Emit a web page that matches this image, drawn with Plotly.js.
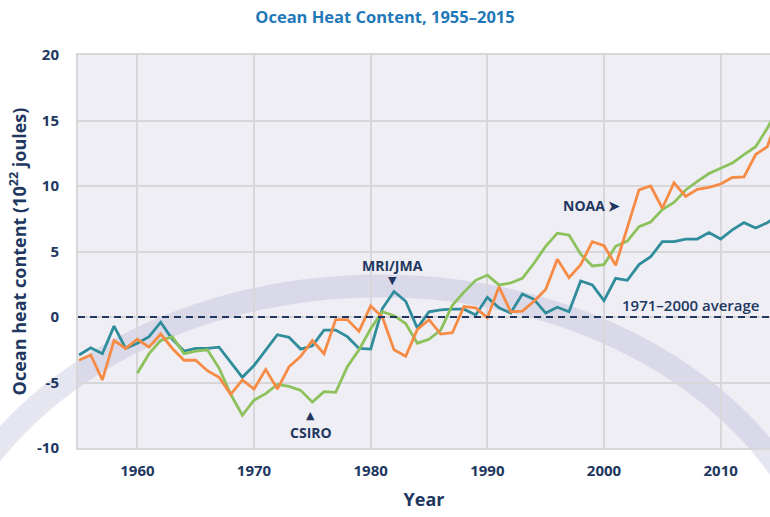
<!DOCTYPE html>
<html>
<head>
<meta charset="utf-8">
<script src="https://cdn.plot.ly/plotly-3.0.1.min.js"></script>
<style>html,body{margin:0;padding:0;background:#fff;}#chart{width:770px;height:517px;}</style>
</head>
<body>
<div id="chart"></div>
<script>
const years = [1955,1956,1957,1958,1959,1960,1961,1962,1963,1964,1965,1966,1967,1968,1969,1970,1971,1972,1973,1974,1975,1976,1977,1978,1979,1980,1981,1982,1983,1984,1985,1986,1987,1988,1989,1990,1991,1992,1993,1994,1995,1996,1997,1998,1999,2000,2001,2002,2003,2004,2005,2006,2007,2008,2009,2010,2011,2012,2013,2014,2015];

const noaa = [-3.3,-2.9,-4.8,-1.8,-2.4,-1.7,-2.3,-1.3,-2.4,-3.3,-3.3,-4.1,-4.6,-5.9,-4.8,-5.5,-4.0,-5.5,-3.8,-3.0,-1.8,-2.8,-0.2,-0.2,-1.1,0.85,0.0,-2.5,-3.0,-0.95,-0.2,-1.3,-1.2,0.8,0.7,-0.05,2.3,0.4,0.45,1.2,2.1,4.4,3.0,4.0,5.75,5.45,3.95,6.8,9.7,10.0,8.3,10.25,9.2,9.75,9.9,10.15,10.65,10.7,12.4,13.0,15.6];

const mriJma = [-2.9,-2.35,-2.8,-0.7,-2.4,-2.0,-1.5,-0.4,-1.7,-2.6,-2.4,-2.4,-2.3,-3.45,-4.6,-3.7,-2.5,-1.35,-1.55,-2.45,-2.2,-1.0,-1.0,-1.5,-2.4,-2.45,0.65,1.95,1.2,-0.85,0.4,0.55,0.6,0.6,0.15,1.5,0.7,0.3,1.75,1.35,0.3,0.75,0.4,2.75,2.45,1.25,2.95,2.8,4.0,4.6,5.75,5.75,5.95,5.95,6.45,5.95,6.65,7.2,6.8,7.2,7.8];

const csiroYears = years.slice(5);
const csiro = [-4.3,-2.8,-1.8,-1.5,-2.8,-2.6,-2.5,-3.9,-5.9,-7.5,-6.35,-5.85,-5.15,-5.3,-5.6,-6.5,-5.7,-5.75,-3.8,-2.5,-0.9,0.4,0.1,-0.5,-2.0,-1.7,-1.0,0.9,1.9,2.8,3.2,2.45,2.6,2.95,4.1,5.4,6.4,6.25,4.8,3.9,4.0,5.4,5.8,6.9,7.25,8.2,8.75,9.7,10.35,10.95,11.35,11.75,12.4,13.0,14.4,16.1];

const yTicks = [-10,-5,0,5,10,15,20];
const xTicks = [1960,1970,1980,1990,2000,2010];

const navy = '#21375f';
const fontFam = '"Open Sans", "Liberation Sans", sans-serif';

// decorative background arc (pixel geometry converted to paper coords)
const W = 770, H = 517, mL = 78, mR = 0, mT = 55, mB = 69;
const pw = W - mL - mR, ph = H - mT - mB;
function toPaper(px, py){ return [(px - mL)/pw, (H - mB - py)/ph]; }
let arcPath = '';
const cx = 380, cy = 636, rx = 455, ry = 350;
for (let px = -20; px <= 790; px += 10) {
  const dx = Math.max(-rx, Math.min(rx, px - cx));
  const py = cy - ry*Math.sqrt(1 - (dx/rx)*(dx/rx));
  const p = toPaper(px, py);
  arcPath += (arcPath ? ' L ' : 'M ') + p[0].toFixed(4) + ',' + p[1].toFixed(4);
}

const lineW = 2.8;
const traces = [
  {x: years, y: mriJma, type: 'scatter', mode: 'lines', name: 'MRI/JMA', line: {color: '#2f8c9b', width: lineW}},
  {x: csiroYears, y: csiro, type: 'scatter', mode: 'lines', name: 'CSIRO', line: {color: '#8cc15c', width: lineW}},
  {x: years, y: noaa, type: 'scatter', mode: 'lines', name: 'NOAA', line: {color: '#f68b45', width: lineW}}
];

const annFont = {family: fontFam, size: 14, color: navy, weight: 700};
const arrowFont = {family: 'DejaVu Sans', size: 11, color: navy};
const layout = {
  width: W, height: H,
  margin: {l: mL, r: mR, t: mT, b: mB, pad: 0},
  paper_bgcolor: '#ffffff',
  plot_bgcolor: '#efeef5',
  showlegend: false,
  hovermode: false,
  title: {text: 'Ocean Heat Content, 1955–2015', x: 0.5, xref: 'container', y: 1 - 17/H, yref: 'container', yanchor: 'middle',
          font: {family: fontFam, size: 16.5, color: '#1f78b8', weight: 700}},
  xaxis: {
    range: [1954.91, 2014.23], tickvals: xTicks, ticktext: xTicks.map(String),
    showgrid: true, gridcolor: '#d7d7da', gridwidth: 2, zeroline: false,
    showline: true, mirror: true, linecolor: '#d7d7da', linewidth: 2,
    ticks: '', ticklabelstandoff: 8,
    tickfont: {family: fontFam, size: 15, color: navy, weight: 700},
    title: {text: 'Year', standoff: 14, font: {family: fontFam, size: 18, color: navy, weight: 700}}
  },
  yaxis: {
    range: [-10, 20], tickvals: yTicks, ticktext: yTicks.map(String),
    showgrid: true, gridcolor: '#d7d7da', gridwidth: 2, zeroline: false,
    showline: true, linecolor: '#d7d7da', linewidth: 2,
    ticks: '', ticklabelstandoff: 14,
    tickfont: {family: fontFam, size: 15, color: navy, weight: 700},
    title: {text: 'Ocean heat content (10<sup>22</sup> joules)', standoff: 6, font: {family: fontFam, size: 18, color: navy, weight: 700}}
  },
  shapes: [
    {type: 'path', xref: 'paper', yref: 'paper', path: arcPath, layer: 'below',
     line: {color: 'rgba(165,165,200,0.28)', width: 23}, fillcolor: 'rgba(0,0,0,0)'},
    {type: 'line', xref: 'paper', yref: 'y', x0: 0, x1: 1, y0: 0, y1: 0, layer: 'above',
     line: {color: navy, width: 2, dash: '7px,5px'}}
  ],
  annotations: [
    {x: 1998.9, y: 8.55, xref: 'x', yref: 'y', text: 'NOAA ➤', showarrow: false, font: annFont},
    {x: 1981.9, y: 3.9, xref: 'x', yref: 'y', text: 'MRI/JMA', showarrow: false, font: annFont},
    {x: 1981.9, y: 2.75, xref: 'x', yref: 'y', text: '▼', showarrow: false, font: arrowFont},
    {x: 1974.85, y: -8.8, xref: 'x', yref: 'y', text: 'CSIRO', showarrow: false, font: annFont},
    {x: 1974.85, y: -7.5, xref: 'x', yref: 'y', text: '▲', showarrow: false, font: arrowFont},
    {x: 2007.45, y: 0.95, xref: 'x', yref: 'y', text: '1971–2000 average', showarrow: false, font: {family: fontFam, size: 15, color: navy, weight: 600}}
  ]
};

Plotly.newPlot('chart', traces, layout, {staticPlot: true, displayModeBar: false});
</script>
</body>
</html>
